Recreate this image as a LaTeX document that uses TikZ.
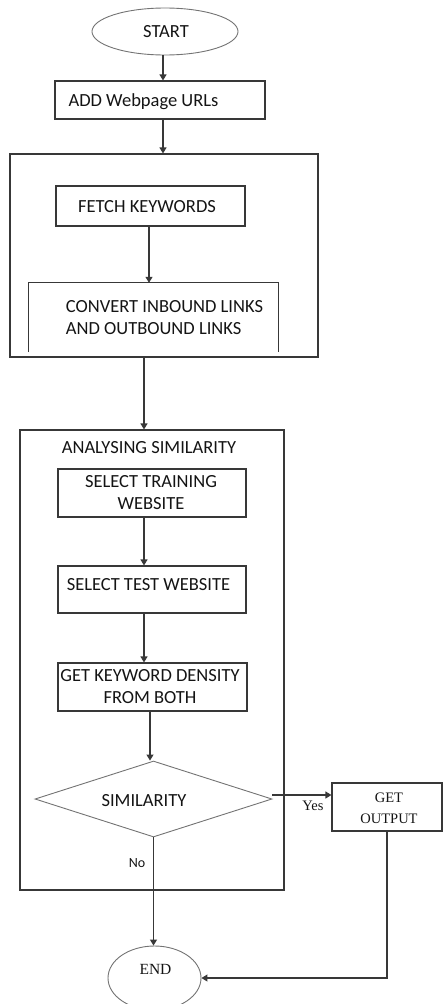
\documentclass[tikz,border=0pt]{standalone}
\usepackage{fontspec}
\setmainfont{Carlito}
\newfontfamily\serifrm{Liberation Serif}
\usetikzlibrary{arrows.meta,shapes.geometric}

\begin{document}
\begin{tikzpicture}[x=1pt,y=-1pt,
  line/.style={draw=black!78, line width=1.1pt},
  thin line/.style={draw=black!55, line width=0.9pt},
  arr/.style={line, -{Triangle[length=6pt,width=7pt]}},
  box/.style={line, rectangle, inner sep=0pt},
  frame/.style={rectangle, inner sep=0pt},
  txt/.style={font=\fontsize{18.5}{21.5}\selectfont, inner sep=0pt, text=black!92},
  small/.style={font=\fontsize{14}{16}\selectfont, inner sep=0pt, text=black!92},
  serif/.style={font=\serifrm\fontsize{14.5}{20}\selectfont, inner sep=0pt, text=black!92},
]
\useasboundingbox (0,0) rectangle (443,1004);

% vertical axes of the connectors
\coordinate (ax1) at (163,0);
\coordinate (ax2) at (149,0);
\coordinate (ax3) at (144,0);
\coordinate (ax4) at (150,0);

% terminals
\node[thin line, ellipse, minimum width=146pt, minimum height=47pt, inner sep=0pt] (start) at (165,31.5) {};
\node[txt] at (166,32) {START};

% input step
\node[box, minimum width=210pt, minimum height=38pt] (add) at (160,100) {};
\node[txt] at (143.5,102) {ADD Webpage URLs};

% preprocessing group
\node[box, minimum width=308pt, minimum height=203pt] (grp1) at (164,255.5) {};
\node[box, minimum width=189pt, minimum height=40pt] (fetch) at (150.5,206) {};
\node[txt] at (147,207) {FETCH KEYWORDS};
\node[frame, minimum width=249pt, minimum height=69pt] (conv) at (153.5,317.5) {};
\draw[line] (conv.south west) -- (conv.north west) -- (conv.north east) -- (conv.south east);
\node[txt, align=left] at (164.5,317.5) {CONVERT INBOUND LINKS\\AND OUTBOUND LINKS};

% similarity analysis group
\node[box, minimum width=264pt, minimum height=460pt] (grp2) at (152,660) {};
\node[txt] at (149,448) {ANALYSING SIMILARITY};
\node[box, minimum width=188pt, minimum height=48pt] (train) at (152,493) {};
\node[txt, align=center] at (151,492.5) {SELECT TRAINING\\WEBSITE};
\node[box, minimum width=188pt, minimum height=47pt] (test) at (152,589.5) {};
\node[txt] at (148.5,585) {SELECT TEST WEBSITE};
\node[box, minimum width=189pt, minimum height=48pt] (kw) at (152.5,687) {};
\node[txt, align=center] at (150,686.5) {GET KEYWORD DENSITY\\FROM BOTH};

% decision
\node[thin line, diamond, minimum width=237pt, minimum height=76pt, inner sep=0pt] (sim) at (153.5,799) {};
\node[txt] at (144,801) {SIMILARITY};

% output and end
\node[box, minimum width=110pt, minimum height=48pt] (out) at (387,807) {};
\node[serif] at (389,798) {GET};
\node[serif] at (389,818.5) {OUTPUT};
\node[thin line, ellipse, minimum width=93pt, minimum height=64pt, inner sep=0pt] (end) at (154.5,978) {};
\node[serif, font=\serifrm\fontsize{15.5}{18}\selectfont] at (155.5,969) {END};

% connectors
\draw[arr] (start.south -| ax1) -- (add.north -| ax1);
\draw[arr] (add.south -| ax1) -- (grp1.north -| ax1);
\draw[arr] (fetch.south -| ax2) -- (conv.north -| ax2);
\draw[arr] (grp1.south -| ax3) -- (grp2.north -| ax3);
\draw[arr] (train.south -| ax3) -- (test.north -| ax3);
\draw[arr] (test.south -| ax3) -- (kw.north -| ax3);
\draw[arr] (kw.south -| ax4) -- (sim.north -| ax4);
\coordinate (yes) at ([yshift=4pt]sim.east);
\draw[arr] (yes) -- (yes -| out.west);
\node[serif] at (313,806) {Yes};
\draw[arr] (sim.south) -- (sim.south |- end.north);
\node[small] at (137,863) {No};
\draw[arr] (out.south) -- (out.south |- end.east) -- (end.east);
\end{tikzpicture}
\end{document}
